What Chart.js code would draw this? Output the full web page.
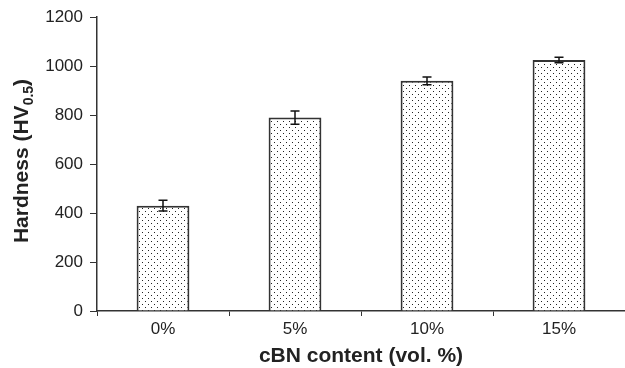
<!DOCTYPE html>
<html>
<head>
<meta charset="utf-8">
<script src="https://cdn.jsdelivr.net/npm/chart.js@4.4.0/dist/chart.umd.min.js"></script>
<style>
    html, body { margin: 0; padding: 0; background: #fff; }
    #wrap { width: 625px; height: 368px; position: relative; }
</style>
</head>
<body>
<div id="wrap"><canvas id="hardnessChart"></canvas></div>
<script>
// Data
const categories = ['0%', '5%', '10%', '15%'];
const hardness = [430, 790, 940, 1025];
const hardnessError = [22, 27, 16, 11];
const yTicks = [0, 200, 400, 600, 800, 1000, 1200];

const axisColor = '#333';
const textColor = '#222';

// Small dotted fill like the original print
function makeDotPattern() {
    const tile = document.createElement('canvas');
    tile.width = 6;
    tile.height = 6;
    const c = tile.getContext('2d');
    c.fillStyle = '#fff';
    c.fillRect(0, 0, 6, 6);
    c.fillStyle = '#222';
    c.fillRect(1, 1, 1, 1);
    c.fillRect(4, 4, 1, 1);
    return c.createPattern(tile, 'repeat');
}

// Error bars drawn from the y scale
const errorBarPlugin = {
    id: 'errorBars',
    afterDatasetsDraw(chart) {
        const ctx = chart.ctx;
        const yScale = chart.scales.y;
        const meta = chart.getDatasetMeta(0);
        ctx.save();
        ctx.strokeStyle = '#111';
        ctx.lineWidth = 1.5;
        meta.data.forEach((bar, i) => {
            const x = bar.x;
            const top = yScale.getPixelForValue(hardness[i] + hardnessError[i]);
            const bottom = yScale.getPixelForValue(hardness[i] - hardnessError[i]);
            ctx.beginPath();
            ctx.moveTo(x, top);
            ctx.lineTo(x, bottom);
            ctx.moveTo(x - 4.5, top);
            ctx.lineTo(x + 4.5, top);
            ctx.moveTo(x - 4.5, bottom);
            ctx.lineTo(x + 4.5, bottom);
            ctx.stroke();
        });
        ctx.restore();
    }
};

// Y axis title with subscript
const yTitlePlugin = {
    id: 'yTitle',
    afterDraw(chart) {
        const ctx = chart.ctx;
        const area = chart.chartArea;
        const main = 'bold 21px "Liberation Sans", Arial, sans-serif';
        const sub = 'bold 14px "Liberation Sans", Arial, sans-serif';
        ctx.save();
        ctx.font = main;
        const w1 = ctx.measureText('Hardness (HV').width;
        const w3 = ctx.measureText(')').width;
        ctx.font = sub;
        const w2 = ctx.measureText('0.5').width;
        const total = w1 + w2 + w3;
        const cy = 161;
        ctx.translate(28, cy);
        ctx.rotate(-Math.PI / 2);
        ctx.fillStyle = textColor;
        ctx.textBaseline = 'alphabetic';
        ctx.textAlign = 'left';
        let x = -total / 2;
        ctx.font = main;
        ctx.fillText('Hardness (HV', x, 0);
        x += w1;
        ctx.font = sub;
        ctx.fillText('0.5', x, 5);
        x += w2;
        ctx.font = main;
        ctx.fillText(')', x, 0);
        ctx.restore();
    }
};

function initializeChart() {
    new Chart(document.getElementById('hardnessChart'), {
        type: 'bar',
        data: {
            labels: categories,
            datasets: [{
                label: 'Hardness',
                data: hardness,
                backgroundColor: makeDotPattern(),
                borderColor: '#333',
                borderWidth: 2,
                categoryPercentage: 1,
                barPercentage: 0.4
            }]
        },
        options: {
            responsive: true,
            maintainAspectRatio: false,
            animation: false,
            layout: { padding: { top: 17, right: 0, bottom: 0, left: 0 } },
            plugins: {
                legend: { display: false },
                tooltip: { enabled: false }
            },
            scales: {
                x: {
                    afterFit(scale) { scale.height = 57; },
                    grid: {
                        drawOnChartArea: false,
                        drawTicks: true,
                        tickLength: 5,
                        color: axisColor
                    },
                    border: { display: true, color: axisColor, width: 1.5 },
                    ticks: {
                        color: textColor,
                        padding: 3,
                        font: { family: '"Liberation Sans", Arial, sans-serif', size: 17 }
                    },
                    title: {
                        display: true,
                        text: 'cBN content (vol. %)',
                        color: textColor,
                        padding: { top: 0, bottom: 1 },
                        font: { family: '"Liberation Sans", Arial, sans-serif', size: 21, weight: 'bold', lineHeight: 1 }
                    }
                },
                y: {
                    min: 0,
                    max: 1200,
                    afterFit(scale) { scale.width = 97; },
                    afterBuildTicks(scale) { scale.ticks = yTicks.map(v => ({ value: v })); },
                    grid: {
                        drawOnChartArea: false,
                        drawTicks: true,
                        tickLength: 7,
                        color: axisColor
                    },
                    border: { display: true, color: axisColor, width: 1.5 },
                    ticks: {
                        color: textColor,
                        padding: 7,
                        callback: (value) => String(value),
                        font: { family: '"Liberation Sans", Arial, sans-serif', size: 17 }
                    }
                }
            }
        },
        plugins: [errorBarPlugin, yTitlePlugin]
    });
}

document.addEventListener('DOMContentLoaded', initializeChart);
</script>
</body>
</html>
